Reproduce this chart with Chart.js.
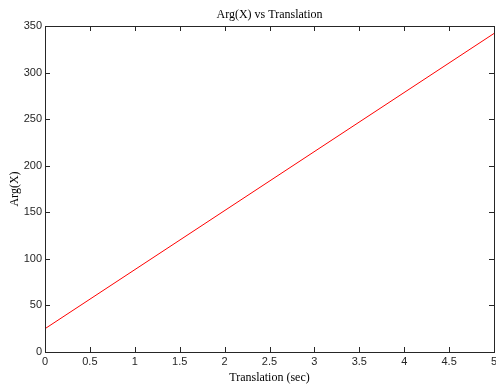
<!DOCTYPE html>
<html>
<head>
<meta charset="utf-8">
<script src="https://cdn.jsdelivr.net/npm/chart.js@4"></script>
<style>
    html, body { margin: 0; padding: 0; background: #fff; }
    #wrap { width: 496px; height: 385px; position: relative; }
</style>
</head>
<body>
<div id="wrap"><canvas id="chart" width="496" height="385"></canvas></div>
<script>
const translation = [0, 5];
const argX = [25, 342];
const xTicks = [0, 0.5, 1, 1.5, 2, 2.5, 3, 3.5, 4, 4.5, 5];
const yTicks = [0, 50, 100, 150, 200, 250, 300, 350];

const frameColor = '#262626';

// matlab style box with inward ticks on all sides, plus the title
const boxPlugin = {
    id: 'box',
    afterDraw(chart) {
        const { ctx, chartArea: a, scales } = chart;
        ctx.save();
        ctx.strokeStyle = frameColor;
        ctx.lineWidth = 1;
        ctx.strokeRect(a.left + 0.5, a.top + 0.5, a.right - a.left, a.bottom - a.top);
        ctx.beginPath();
        xTicks.forEach(v => {
            const x = Math.round(scales.x.getPixelForValue(v)) + 0.5;
            ctx.moveTo(x, a.bottom); ctx.lineTo(x, a.bottom - 5);
            ctx.moveTo(x, a.top); ctx.lineTo(x, a.top + 5);
        });
        yTicks.forEach(v => {
            const y = Math.round(scales.y.getPixelForValue(v)) + 0.5;
            ctx.moveTo(a.left, y); ctx.lineTo(a.left + 5, y);
            ctx.moveTo(a.right, y); ctx.lineTo(a.right - 5, y);
        });
        ctx.stroke();
        ctx.fillStyle = '#000';
        ctx.font = '12px "Liberation Serif"';
        ctx.textAlign = 'center';
        ctx.textBaseline = 'alphabetic';
        ctx.fillText('Arg(X) vs Translation', (a.left + a.right) / 2, 18);
        ctx.restore();
    }
};

new Chart(document.getElementById('chart'), {
    type: 'line',
    data: {
        datasets: [{
            data: translation.map((t, i) => ({ x: t, y: argX[i] })),
            borderColor: '#ff0000',
            borderWidth: 1,
            pointRadius: 0,
            tension: 0
        }]
    },
    options: {
        responsive: false,
        animation: false,
        layout: { padding: { top: 26, right: 2, left: 0, bottom: 0 } },
        plugins: { legend: { display: false }, tooltip: { enabled: false } },
        scales: {
            x: {
                type: 'linear',
                min: 0, max: 5,
                afterBuildTicks: s => { s.ticks = xTicks.map(v => ({ value: v })); },
                afterFit: s => { s.height = 33; s.paddingLeft = 0; s.paddingRight = 0; },
                grid: { display: false, drawTicks: false },
                border: { display: false },
                ticks: {
                    padding: 3,
                    color: '#262626',
                    font: { family: 'Liberation Sans', size: 11 },
                    maxRotation: 0,
                    callback: v => String(v)
                },
                title: {
                    display: true,
                    text: 'Translation (sec)',
                    color: '#000',
                    font: { family: 'Liberation Serif', size: 12 },
                    padding: { top: 6, bottom: 0 }
                }
            },
            y: {
                type: 'linear',
                min: 0, max: 350,
                afterBuildTicks: s => { s.ticks = yTicks.map(v => ({ value: v })); },
                afterFit: s => { s.width = 45; s.paddingTop = 0; s.paddingBottom = 0; },
                grid: { display: false, drawTicks: false },
                border: { display: false },
                ticks: {
                    padding: 3,
                    color: '#262626',
                    font: { family: 'Liberation Sans', size: 11 },
                    callback: v => String(v)
                },
                title: {
                    display: true,
                    text: 'Arg(X)',
                    color: '#000',
                    font: { family: 'Liberation Serif', size: 12 },
                    padding: { top: 8, bottom: 0 }
                }
            }
        }
    },
    plugins: [boxPlugin]
});
</script>
</body>
</html>
